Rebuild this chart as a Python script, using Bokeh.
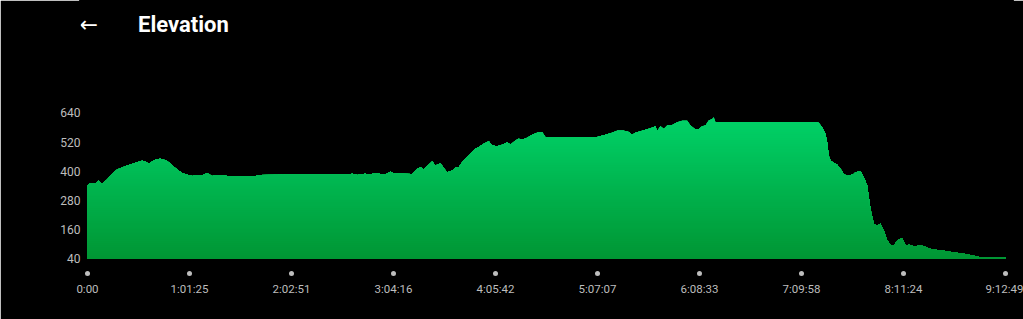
import numpy as np
from bokeh.plotting import figure
from bokeh.models import FixedTicker, Label
from bokeh.embed import file_html
from bokeh.resources import INLINE

# elapsed time (s) and elevation (m)
time_s = [0, 108, 289, 408, 531, 712, 892, 1073, 1254, 1434, 1615, 1796, 1976, 2096, 2215,
          2338, 2457, 2637, 2818, 2937, 3060, 3241, 3422, 3602, 3783, 3963, 4144, 4325, 4505,
          4686, 4925, 5347, 6070, 6131, 7757, 9441, 9564, 9744, 10044, 10225, 10344, 10525,
          10705, 10828, 10947, 11067, 11731, 11912, 12031, 12151, 12331, 12454, 12573, 12754,
          12873, 12996, 13177, 13296, 13415, 13538, 13719, 13838, 14018, 14138, 14318, 14499,
          14622, 14802, 14983, 15164, 15283, 15464, 15583, 15706, 15886, 16067, 16248, 16428,
          16548, 18354, 18415, 18715, 18957, 19138, 19377, 19557, 19680, 19799, 19980, 20161,
          20341, 20522, 20583, 20702, 20822, 20945, 21125, 21306, 21487, 21667, 21786, 21967,
          22090, 22209, 22328, 22448, 22570, 22628, 22690, 26364, 26422, 26545, 26664, 26725,
          26783, 26845, 26964, 27087, 27206, 27325, 27448, 27567, 27686, 27748, 27867, 27929,
          28048, 28171, 28290, 28409, 28532, 28651, 28770, 28893, 29012, 29132, 29255, 29435,
          29554, 29674, 29854, 30158, 30277, 30519, 30880, 31242, 31722, 31903, 32203, 32384,
          32564, 33169]
elev_m = [341, 352, 350, 361, 347, 366, 389, 407, 415, 423, 430, 437, 443, 440, 430,
          440, 448, 451, 445, 437, 423, 407, 392, 385, 380, 383, 383, 392, 380,
          383, 381, 378, 378, 384, 385, 385, 390, 384, 390, 384, 393, 390,
          386, 390, 399, 390, 389, 410, 416, 407, 426, 440, 423, 433,
          412, 396, 403, 414, 416, 437, 458, 474, 492, 499, 513, 523,
          506, 503, 509, 519, 509, 526, 533, 529, 537, 550, 558, 560,
          540, 538, 541, 550, 558, 566, 566, 561, 550, 558, 564, 570,
          577, 585, 564, 585, 573, 588, 590, 601, 607, 607, 588, 571,
          573, 585, 588, 608, 615, 622, 601, 601, 599, 581, 554, 519,
          464, 444, 434, 426, 410, 389, 380, 383, 389, 396, 399, 400,
          375, 341, 245, 184, 177, 184, 156, 115, 98, 95, 115, 125,
          95, 98, 92, 95, 88, 78, 74, 67, 60, 56, 47, 45,
          47, 46]

total_s = 33169
x_tick_labels = ["0:00", "1:01:25", "2:02:51", "3:04:16", "4:05:42",
                 "5:07:07", "6:08:33", "7:09:58", "8:11:24", "9:12:49"]
y_ticks = [40, 160, 280, 400, 520, 640]

x_ticks = [total_s * i / 9 for i in range(10)]

y0 = y_ticks[0]
px_per_m = 0.24333
x_start = -7 * total_s / 918
x_end = total_s + 7 * total_s / 918
y_start = y0 - 19.7 / px_per_m
y_end = y0 + 258.3 / px_per_m

p = figure(width=1023, height=319, x_range=(x_start, x_end), y_range=(y_start, y_end),
           output_backend="svg", toolbar_location=None,
           min_border_left=80, min_border_right=11, min_border_top=0, min_border_bottom=41,
           background_fill_color="black", border_fill_color="black")
p.outline_line_color = "black"
p.outline_line_width = 3
p.grid.visible = False

# gradient fill: stacked layers, drawn from the highest cap down
elev = np.array(elev_m, dtype=float)
top_c = np.array([0, 212, 106])
bot_c = np.array([0, 150, 52])
caps = np.arange(y_ticks[-1], y0, -8.0)
for cap in caps:
    f = (cap - y0) / (y_ticks[-1] - y0)
    r, g, b = (bot_c * (1 - f) + top_c * f).astype(int)
    p.varea(x=time_s, y1=y0, y2=np.minimum(elev, cap),
            fill_color=f"#{r:02x}{g:02x}{b:02x}")

# tick dots under the plot
p.scatter(x=x_ticks, y=[y0 - 60.4] * len(x_ticks), size=5, color="#bdbdbd", line_color=None)

xa = p.xaxis[0]
xa.ticker = FixedTicker(ticks=x_ticks)
xa.major_label_overrides = {t: s for t, s in zip(x_ticks, x_tick_labels)}
xa.axis_line_color = None
xa.major_tick_line_color = None
xa.minor_tick_line_color = None
xa.major_tick_in = 0
xa.major_tick_out = 0
xa.major_label_standoff = 3
xa.major_label_text_font = "Roboto"
xa.major_label_text_font_size = "11.5px"
xa.major_label_text_color = "#bdbdbd"

ya = p.yaxis[0]
ya.ticker = FixedTicker(ticks=y_ticks)
ya.axis_line_color = None
ya.major_tick_line_color = None
ya.minor_tick_line_color = None
ya.major_tick_in = 0
ya.major_tick_out = 0
ya.major_label_standoff = 0
ya.major_label_text_font = "Roboto"
ya.major_label_text_font_size = "12px"
ya.major_label_text_color = "#bdbdbd"

p.add_layout(Label(x=137.5, y=23.5, x_units="canvas", y_units="canvas", text="Elevation",
                   text_color="white", text_font="Roboto", text_font_size="22px",
                   text_font_style="bold", text_baseline="alphabetic"))
p.add_layout(Label(x=79, y=23.5, x_units="canvas", y_units="canvas", text="\u2190",
                   text_color="white", text_font="DejaVu Sans", text_font_size="22px",
                   text_baseline="middle"))

open("out.html", "w").write(file_html(p, INLINE))
